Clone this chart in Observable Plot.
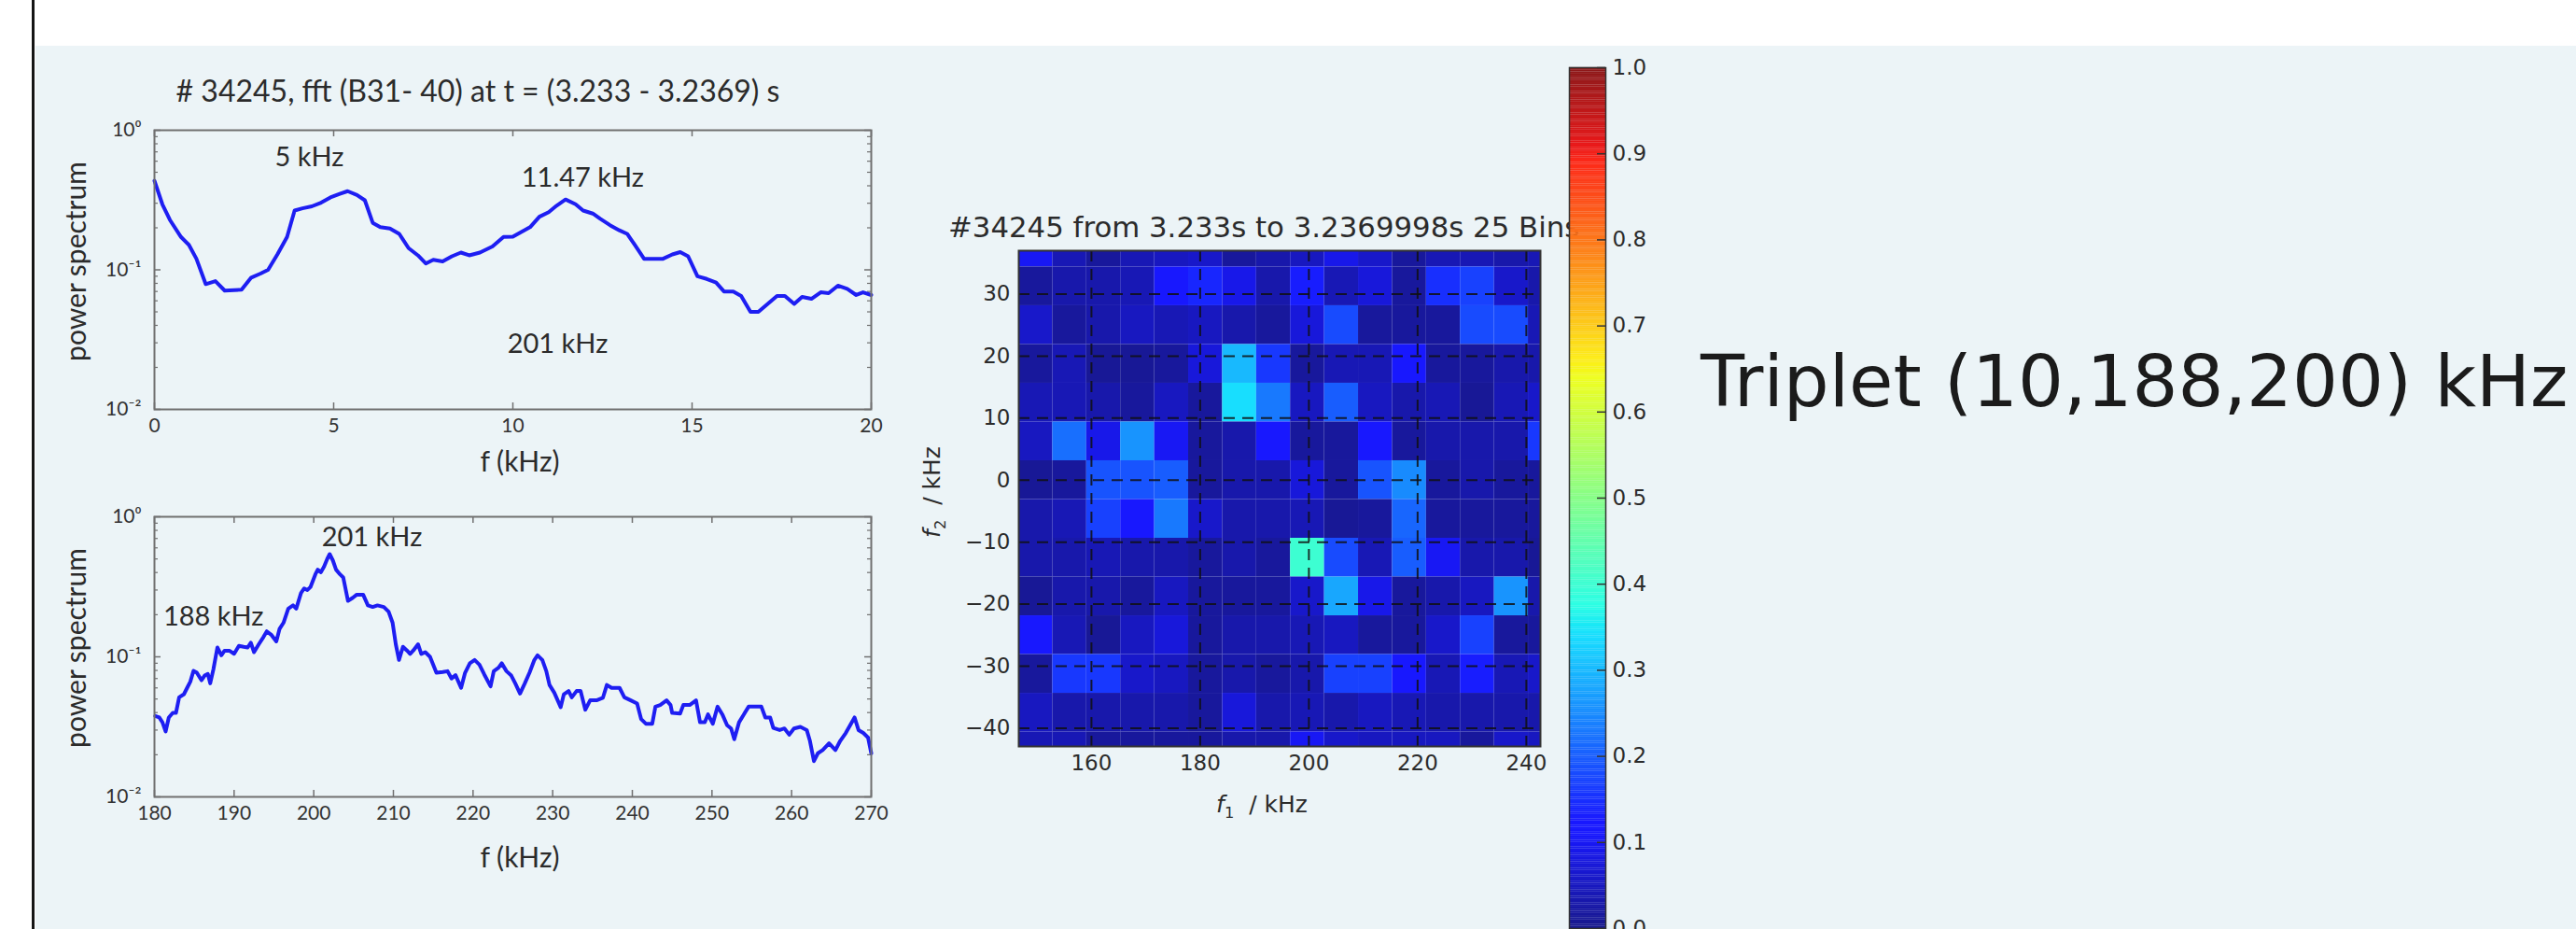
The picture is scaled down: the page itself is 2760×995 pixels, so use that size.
<!DOCTYPE html>
<html><head><meta charset="utf-8">
<script src="https://cdn.jsdelivr.net/npm/d3@7"></script>
<script src="https://cdn.jsdelivr.net/npm/@observablehq/plot@0.6"></script>
<style>
html,body{margin:0;padding:0;background:#fff;}
#page{position:relative;width:2760px;height:995px;overflow:hidden;background:#fff;}
#bg{position:absolute;left:38px;top:49px;right:0;bottom:0;background:#ecf4f7;}
#vline{position:absolute;left:34px;top:0;width:3px;height:995px;background:#151515;}
.lbl{position:absolute;transform:translate(-50%,-50%);white-space:nowrap;line-height:1;color:#2b2b2b;}
</style></head><body><div id="page"><div id="bg"></div><div id="vline"></div></div>
<script>
// ---------- data ----------
const topFreq = [0,0.22,0.43,0.74,0.96,1.17,1.43,1.70,1.96,2.43,2.70,2.96,3.17,3.43,3.70,3.91,4.13,4.39,4.65,4.91,5.17,5.39,5.65,5.87,6.09,6.30,6.57,6.83,7.09,7.35,7.57,7.78,8.04,8.30,8.55,8.78,9.08,9.43,9.74,10.0,10.48,10.74,11.0,11.22,11.47,11.75,11.96,12.23,12.44,12.71,12.97,13.19,13.40,13.66,13.93,14.19,14.45,14.67,14.89,15.15,15.41,15.67,15.89,16.15,16.37,16.63,16.85,17.11,17.37,17.59,17.85,18.07,18.33,18.59,18.81,19.07,19.33,19.58,19.77,20.0];
const topPower = [0.434,0.295,0.228,0.172,0.151,0.120,0.079,0.083,0.071,0.072,0.088,0.094,0.100,0.129,0.172,0.266,0.276,0.285,0.303,0.330,0.350,0.366,0.344,0.315,0.217,0.202,0.198,0.181,0.143,0.127,0.111,0.118,0.115,0.125,0.133,0.127,0.133,0.147,0.172,0.173,0.202,0.240,0.259,0.288,0.319,0.295,0.266,0.253,0.232,0.209,0.192,0.181,0.151,0.120,0.120,0.120,0.129,0.134,0.125,0.090,0.086,0.081,0.070,0.070,0.065,0.050,0.050,0.057,0.065,0.065,0.057,0.064,0.062,0.069,0.068,0.077,0.073,0.066,0.069,0.066];

const botFreq = [180.1,180.6,181.0,181.4,181.8,182.3,182.7,183.1,183.7,184.1,184.5,184.9,185.3,185.9,186.3,186.7,187.0,187.4,187.9,188.4,188.8,189.4,190.0,190.6,191.2,191.7,192.1,192.5,193.1,193.7,194.1,194.7,195.3,195.7,196.2,196.8,197.4,197.8,198.4,198.8,199.2,199.6,200.2,200.5,200.9,201.3,201.7,202.0,202.4,202.8,203.3,203.7,204.3,204.9,205.4,206.2,206.8,207.4,208.0,208.8,209.4,209.9,210.3,210.7,211.2,211.7,212.1,212.5,213.1,213.5,214.0,214.6,215.4,216.2,216.8,217.3,217.8,218.5,219.0,219.6,220.2,220.8,221.4,222.2,222.6,223.2,223.6,224.2,224.8,225.3,225.9,226.5,227.1,227.7,228.1,228.7,229.2,229.6,230.2,231.0,231.4,232.0,232.4,233.0,233.5,234.1,234.7,235.5,236.3,236.8,237.4,238.4,239.0,239.8,240.6,241.1,241.7,242.5,242.9,243.5,244.3,244.8,245.0,246.0,246.4,247.2,248.0,248.5,249.1,249.5,250.1,250.7,251.3,251.9,252.4,252.8,253.4,254.0,254.6,255.4,256.2,256.7,257.3,257.7,258.5,259.1,259.7,260.3,261.1,261.9,262.3,262.8,263.3,263.9,264.7,265.5,266.1,266.8,267.9,268.4,269.0,269.6,270.0];
const botPower = [0.0378,0.0369,0.0341,0.0293,0.0369,0.0398,0.0398,0.0514,0.0541,0.060,0.0664,0.0794,0.0774,0.0681,0.0735,0.0755,0.0647,0.0815,0.1166,0.1026,0.1107,0.1107,0.1052,0.1197,0.1178,0.1166,0.126,0.108,0.123,0.139,0.152,0.143,0.129,0.158,0.175,0.221,0.233,0.221,0.286,0.308,0.300,0.316,0.388,0.419,0.402,0.441,0.501,0.541,0.488,0.419,0.388,0.369,0.251,0.264,0.278,0.278,0.233,0.227,0.233,0.227,0.210,0.175,0.123,0.095,0.118,0.111,0.105,0.111,0.123,0.105,0.108,0.100,0.077,0.078,0.079,0.070,0.074,0.060,0.077,0.090,0.095,0.088,0.075,0.0615,0.079,0.0836,0.090,0.079,0.0735,0.0647,0.0547,0.0647,0.0774,0.095,0.1026,0.095,0.079,0.063,0.0555,0.0437,0.054,0.057,0.0514,0.057,0.057,0.0419,0.0489,0.0489,0.0509,0.063,0.060,0.060,0.0514,0.0489,0.0464,0.036,0.0333,0.0333,0.0441,0.0453,0.0489,0.0453,0.0398,0.0394,0.0453,0.0453,0.0489,0.0341,0.0341,0.0388,0.0333,0.0441,0.0388,0.0325,0.0308,0.0258,0.0341,0.0388,0.0441,0.0441,0.0441,0.0369,0.0369,0.0311,0.030,0.0308,0.0278,0.0308,0.0316,0.030,0.0251,0.018,0.0205,0.0216,0.0241,0.0216,0.0251,0.0286,0.0369,0.030,0.0286,0.0265,0.0205];

const topNotes = [{f: 4.32, p: 0.64, label: "5 kHz"}, {f: 11.95, p: 0.456, label: "11.47 kHz"}, {f: 11.25, p: 0.0294, label: "201 kHz"}];
const botNotes = [{f: 207.3, p: 0.713, label: "201 kHz"}, {f: 187.4, p: 0.194, label: "188 kHz"}];

const topXTicks = [0, 5, 10, 15, 20];
const botXTicks = [180, 190, 200, 210, 220, 230, 240, 250, 260, 270];
const logTicks = [0.01, 0.1, 1];
const logTickLabels = ["10\u207B\u00B2", "10\u207B\u00B9", "10\u2070"];
const logMinorTicks = [0.02,0.03,0.04,0.05,0.06,0.07,0.08,0.09,0.2,0.3,0.4,0.5,0.6,0.7,0.8,0.9];

// bicoherence map
const binWidth = 6.25;
const f1Centers = [149.75,156,162.25,168.5,174.75,181,187.25,193.5,199.75,206,212.25,218.5,224.75,231,237.25,243.5];
const f2Centers = [37.5,31.25,25,18.75,12.5,6.25,0,-6.25,-12.5,-18.75,-25,-31.25,-37.5,-43.75];
const bicoherence = [
  [0.10,0.04,0.015,0.04,0.05,0.06,0.015,0.03,0.05,0.09,0.06,0.015,0.04,0.04,0.03,0.04],
  [0.015,0.03,0.03,0.04,0.11,0.14,0.09,0.03,0.13,0.04,0.075,0.015,0.15,0.17,0.06,0.03],
  [0.06,0.015,0.03,0.05,0.04,0.05,0.03,0.015,0.075,0.18,0.015,0.015,0.015,0.18,0.18,0.04],
  [0.015,0.04,0.01,0.01,0.015,0.075,0.30,0.16,0.015,0.04,0.04,0.11,0.015,0.015,0.03,0.03],
  [0.04,0.04,0.03,0.015,0.05,0.015,0.34,0.23,0.05,0.20,0.05,0.03,0.04,0.01,0.04,0.06],
  [0.05,0.22,0.09,0.26,0.10,0.015,0.03,0.11,0.015,0.015,0.11,0.015,0.03,0.03,0.03,0.16],
  [0.01,0.015,0.19,0.19,0.20,0.015,0.03,0.03,0.075,0.015,0.19,0.25,0.015,0.03,0.015,0.015],
  [0.03,0.04,0.17,0.11,0.23,0.06,0.03,0.03,0.04,0.01,0.015,0.21,0.015,0.015,0.015,0.015],
  [0.03,0.03,0.04,0.03,0.03,0.015,0.03,0.015,0.40,0.18,0.04,0.20,0.10,0.03,0.03,0.01],
  [0.01,0.03,0.03,0.015,0.05,0.015,0.015,0.015,0.06,0.28,0.09,0.015,0.03,0.05,0.26,0.03],
  [0.11,0.04,0.01,0.05,0.075,0.015,0.03,0.03,0.04,0.05,0.015,0.015,0.06,0.17,0.015,0.015],
  [0.015,0.16,0.16,0.06,0.05,0.015,0.03,0.015,0.03,0.17,0.17,0.11,0.04,0.13,0.04,0.06],
  [0.05,0.03,0.03,0.03,0.03,0.015,0.075,0.03,0.04,0.03,0.05,0.04,0.03,0.03,0.03,0.03],
  [0.04,0.04,0.015,0.015,0.015,0.015,0.03,0.03,0.10,0.06,0.05,0.05,0.05,0.015,0.06,0.05]
];
const hmXTicks = [160, 180, 200, 220, 240];
const hmYTicks = [30, 20, 10, 0, -10, -20, -30, -40];
const cbTicks = [0, 0.1, 0.2, 0.3, 0.4, 0.5, 0.6, 0.7, 0.8, 0.9, 1.0];

// jet colormap (slightly blended with the page background)
const jetStops = [0, 0.11, 0.125, 0.34, 0.35, 0.375, 0.64, 0.65, 0.66, 0.89, 0.91, 1];
const jetColors = ["rgb(24,24,140)","rgb(24,24,254)","rgb(24,24,254)","rgb(24,222,254)","rgb(24,231,247)","rgb(43,254,228)","rgb(239,254,32)","rgb(246,245,25)","rgb(253,237,25)","rgb(253,42,25)","rgb(232,24,25)","rgb(139,24,25)"];

// ---------- helpers ----------
const page = document.getElementById("page");
function place(el, left, top) {
  el.style.position = "absolute"; el.style.left = left + "px"; el.style.top = top + "px";
  page.appendChild(el);
}
function label(html, x, y, css, rotate) {
  const d = document.createElement("div");
  d.className = "lbl"; d.innerHTML = html;
  d.style.left = x + "px"; d.style.top = y + "px";
  Object.assign(d.style, css);
  if (rotate) d.style.transform = "translate(-50%,-50%) rotate(-90deg)";
  page.appendChild(d);
}

const gray = "#707070";
function spectrum({freq, power, xDomain, xTicks, notes, L, R, T, B}) {
  const fw = R - L, fh = B - T;
  const mL = 115, mR = 20, mT = 30, mB = 45;
  const rows = power.map((p, i) => ({f: freq[i], p}));
  const plot = Plot.plot({
    width: fw + mL + mR, height: fh + mT + mB,
    marginLeft: mL, marginRight: mR, marginTop: mT, marginBottom: mB,
    style: {fontFamily: "Lato, 'Open Sans', sans-serif", background: "transparent", overflow: "visible", color: "#333"},
    x: {domain: xDomain},
    y: {type: "log", domain: [0.01, 1]},
    marks: [
      Plot.tickX(xTicks, {x: d => d, insetTop: fh - 7, stroke: gray, strokeWidth: 1.5}),
      Plot.tickX(xTicks, {x: d => d, insetBottom: fh - 7, stroke: gray, strokeWidth: 1.5}),
      Plot.tickY(logTicks, {y: d => d, insetRight: fw - 7, stroke: gray, strokeWidth: 1.5}),
      Plot.tickY(logTicks, {y: d => d, insetLeft: fw - 7, stroke: gray, strokeWidth: 1.5}),
      Plot.tickY(logMinorTicks, {y: d => d, insetRight: fw - 4, stroke: gray, strokeWidth: 1.2}),
      Plot.tickY(logMinorTicks, {y: d => d, insetLeft: fw - 4, stroke: gray, strokeWidth: 1.2}),
      Plot.line(rows, {x: "f", y: "p", stroke: "#1e1ef2", strokeWidth: 4, strokeLinejoin: "round"}),
      Plot.text(notes, {x: "f", y: "p", text: "label", fontSize: 29, fill: "#2b2b2b"}),
      Plot.axisX(xTicks, {tickSize: 0, tickPadding: 10, fontSize: 21, label: null}),
      Plot.axisY(logTicks, {tickSize: 0, tickPadding: 14, fontSize: 21, label: null,
        tickFormat: d => logTickLabels[logTicks.indexOf(d)]}),
      Plot.frame({stroke: gray, strokeWidth: 2})
    ]
  });
  place(plot, L - mL, T - mT);
}

// ---------- left spectra ----------
spectrum({freq: topFreq, power: topPower, xDomain: [0, 20], xTicks: topXTicks, notes: topNotes, L: 165, R: 933, T: 139, B: 438});
spectrum({freq: botFreq, power: botPower, xDomain: [180, 270], xTicks: botXTicks, notes: botNotes, L: 165, R: 933, T: 553, B: 853});

const lato = {fontFamily: "Lato, 'Open Sans', sans-serif"};
label("# 34245, fft (B31- 40) at t = (3.233 - 3.2369) s", 512, 97, {...lato, fontSize: "32px"});
label("power spectrum", 80, 280, {...lato, fontSize: "30px"}, true);
label("power spectrum", 80, 694, {...lato, fontSize: "30px"}, true);
label("f (kHz)", 557, 493, {...lato, fontSize: "30px"});
label("f (kHz)", 557, 917, {...lato, fontSize: "30px"});

// ---------- bicoherence map ----------
const cells = [];
f2Centers.forEach((f2, j) => f1Centers.forEach((f1, i) => cells.push({f1, f2, v: bicoherence[j][i]})));
const jet = {type: "linear", domain: jetStops, range: jetColors};
{
  const L = 1091, R = 1650, T = 268, B = 799;
  const mL = 70, mR = 20, mT = 20, mB = 50;
  const dash = {stroke: "#111", strokeWidth: 2, strokeDasharray: "12,8", strokeOpacity: 0.85};
  const hm = Plot.plot({
    width: (R - L) + mL + mR, height: (B - T) + mT + mB,
    marginLeft: mL, marginRight: mR, marginTop: mT, marginBottom: mB,
    style: {fontFamily: "'DejaVu Sans', sans-serif", background: "transparent", overflow: "visible", color: "#2b2b2b"},
    x: {domain: [146.625, 242.6]},
    y: {domain: [-42.95, 37.0]},
    color: jet,
    marks: [
      Plot.rect(cells, {x1: d => d.f1 - binWidth / 2, x2: d => d.f1 + binWidth / 2,
        y1: d => d.f2 - binWidth / 2, y2: d => d.f2 + binWidth / 2, fill: "v", clip: true}),
      Plot.ruleX(hmXTicks, {x: d => d, ...dash}),
      Plot.ruleY(hmYTicks, {y: d => d, ...dash}),
      Plot.axisX(hmXTicks, {tickSize: 0, tickPadding: 9, fontSize: 23, label: null}),
      Plot.axisY(hmYTicks, {tickSize: 0, tickPadding: 9, fontSize: 23, label: null,
        tickFormat: d => d < 0 ? "\u2212" + (-d) : String(d)}),
      Plot.frame({stroke: "#333", strokeWidth: 2})
    ]
  });
  place(hm, L - mL, T - mT);
}
const dejavu = {fontFamily: "'DejaVu Sans', sans-serif"};
{
  const t = document.createElement("div");
  t.textContent = "#34245 from 3.233s to 3.2369998s 25 Bins";
  Object.assign(t.style, {position: "absolute", left: "1016px", top: "227px", fontFamily: "'DejaVu Sans', sans-serif",
    fontSize: "30.8px", lineHeight: "33px", color: "#2b2b2b", whiteSpace: "nowrap"});
  page.appendChild(t);
}
label("<i>f</i><sub style='font-size:65%'>1</sub>&nbsp; / kHz", 1352, 864, {...dejavu, fontSize: "25px"});
label("<i>f</i><sub style='font-size:65%'>2</sub>&nbsp; / kHz", 1001, 527, {...dejavu, fontSize: "25px"}, true);

// ---------- colorbar ----------
{
  const L = 1681, R = 1720, T = 72, B = 994;
  const mL = 10, mR = 70, mT = 10, mB = 10;
  const step = 0.0025;
  const ramp = d3.range(0, 1, step);
  const cb = Plot.plot({
    width: (R - L) + mL + mR, height: (B - T) + mT + mB,
    marginLeft: mL, marginRight: mR, marginTop: mT, marginBottom: mB,
    style: {fontFamily: "'DejaVu Sans', sans-serif", background: "transparent", overflow: "visible", color: "#2b2b2b"},
    y: {domain: [0, 1]},
    color: jet,
    marks: [
      Plot.rect(ramp, {y1: d => d, y2: d => d + step * 1.05, fill: d => d + step / 2}),
      Plot.tickY(cbTicks, {y: d => d, insetLeft: (R - L) - 9, stroke: "#333", strokeWidth: 1.5}),
      Plot.axisY(cbTicks, {anchor: "right", tickSize: 0, tickPadding: 7, fontSize: 23, label: null, tickFormat: d3.format(".1f")}),
      Plot.frame({stroke: "#333", strokeWidth: 1.5})
    ]
  });
  place(cb, L - mL, T - mT);
}

// ---------- right caption ----------
{
  const d = document.createElement("div");
  d.textContent = "Triplet (10,188,200) kHz";
  Object.assign(d.style, {position: "absolute", left: "1822px", top: "370px", fontFamily: "'DejaVu Sans', sans-serif",
    fontSize: "77px", lineHeight: "77px", color: "#1b1b1b", whiteSpace: "nowrap"});
  page.appendChild(d);
}
</script></body></html>
